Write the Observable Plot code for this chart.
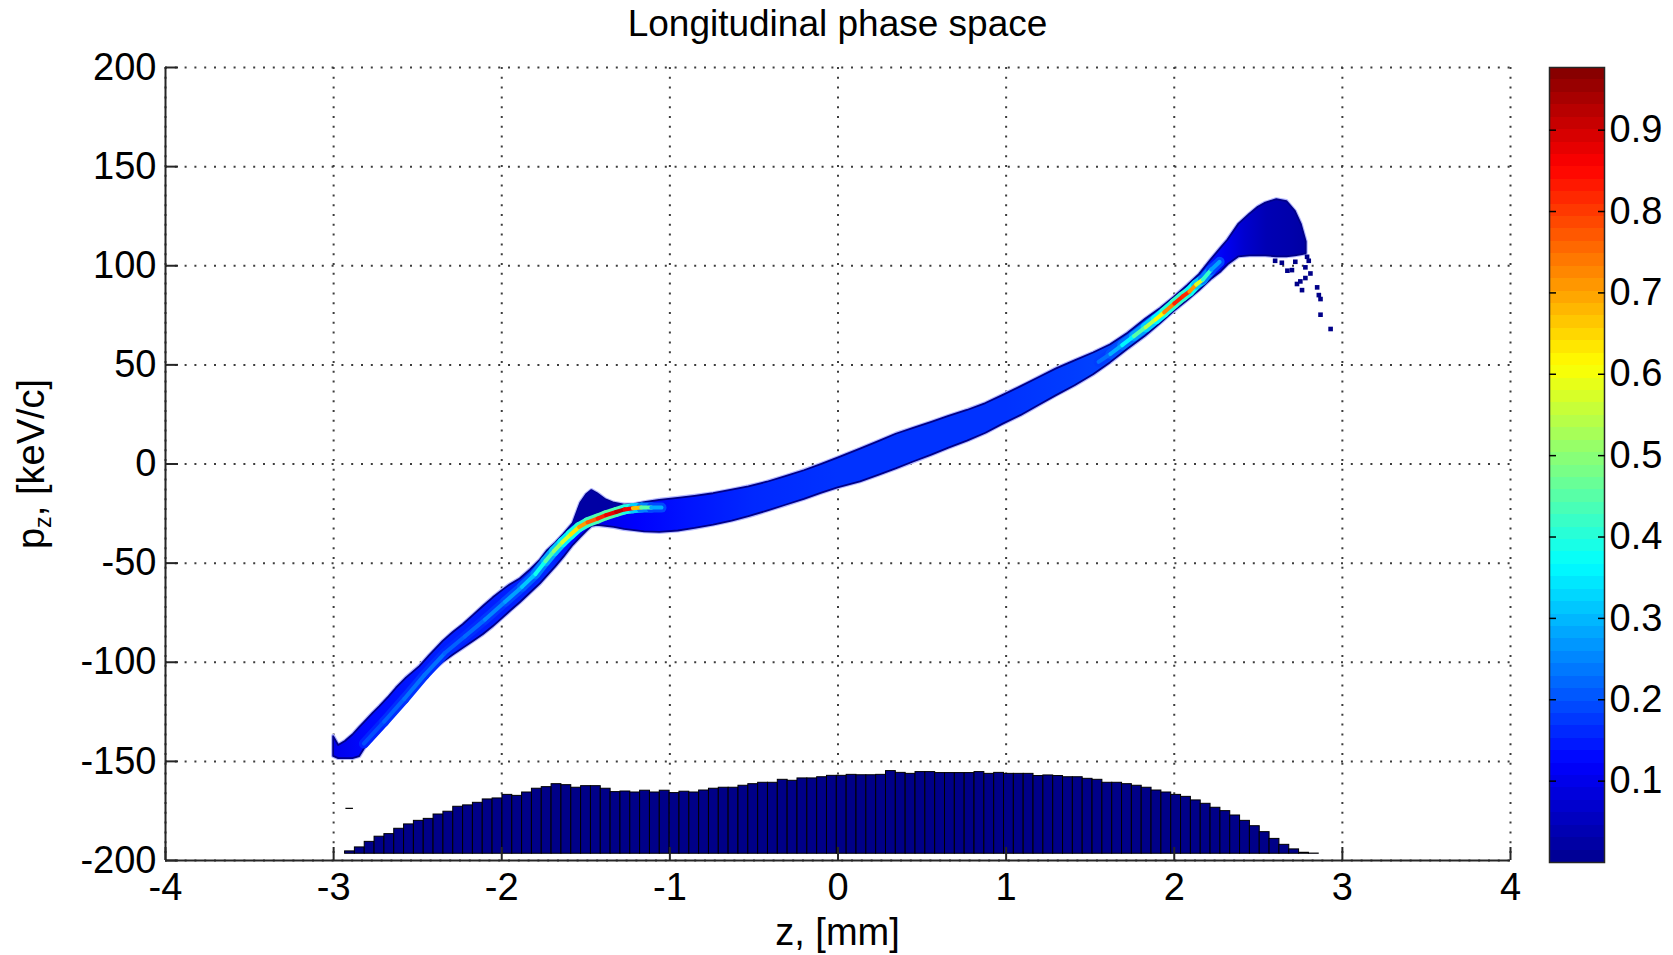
<!DOCTYPE html>
<html>
<head>
<meta charset="utf-8">
<script src="https://cdn.jsdelivr.net/npm/d3@7"></script>
<script src="https://cdn.jsdelivr.net/npm/@observablehq/plot@0.6"></script>
<style>
html,body{margin:0;padding:0;background:#fff;}
#wrap{position:relative;width:1673px;height:955px;overflow:hidden;font-family:"Liberation Sans",Arial,Helvetica,sans-serif;color:#000;}
#main{position:absolute;left:0;top:0;}
#cbar{position:absolute;left:1540px;top:0;}
.lbl{position:absolute;white-space:nowrap;line-height:1;}
#title{left:165px;width:1345px;top:5px;text-align:center;font-size:37px;}
#xlabel{left:165px;width:1345px;top:913px;text-align:center;font-size:38px;}
#ylabel{left:31px;top:464px;font-size:38px;transform:translate(-50%,-50%) rotate(-90deg);}
#ylabel sub{font-size:0.62em;vertical-align:-0.3em;line-height:0;}
</style>
</head>
<body>
<div id="wrap">
  <div id="main"></div>
  <div id="cbar"></div>
  <div class="lbl" id="title">Longitudinal phase space</div>
  <div class="lbl" id="xlabel">z, [mm]</div>
  <div class="lbl" id="ylabel">p<sub>z</sub>, [keV/c]</div>
</div>
<script>
// ---------- tick labels ----------
const xTicks = [-4, -3, -2, -1, 0, 1, 2, 3, 4];
const yTicks = [-200, -150, -100, -50, 0, 50, 100, 150, 200];
const cbTicks = [0.1, 0.2, 0.3, 0.4, 0.5, 0.6, 0.7, 0.8, 0.9];

// ---------- colour map (jet) ----------
const cMax = 0.977;
const jetStops = [0, 0.125, 0.375, 0.625, 0.875, 1];
const jetColors = ["#00008f", "#0000ff", "#00ffff", "#ffff00", "#ff0000", "#800000"];

// ---------- phase-space band envelope: z [mm], lower / upper p [keV/c] ----------
const bandZ  = [-3.00, -2.97, -2.93, -2.885, -2.845, -2.80, -2.765, -2.726, -2.67, -2.626, -2.567, -2.487, -2.427, -2.348, -2.288, -2.229, -2.169, -2.109, -2.05, -1.99, -1.95, -1.89, -1.83, -1.77, -1.73, -1.68, -1.63, -1.575, -1.53, -1.495, -1.464, -1.43, -1.38, -1.33, -1.27, -1.21, -1.15, -1.06, -0.95, -0.85, -0.74, -0.63, -0.53, -0.42, -0.31, -0.20, -0.10, 0.00, 0.134, 0.25, 0.346, 0.45, 0.558, 0.66, 0.77, 0.88, 0.98, 1.09, 1.195, 1.30, 1.41, 1.52, 1.62, 1.726, 1.83, 1.92, 2.00, 2.08, 2.15, 2.22, 2.28, 2.32, 2.385, 2.45, 2.50, 2.545, 2.61, 2.67, 2.72, 2.755, 2.785];
const bandLo = [-147.5, -148.6, -148.6, -148.6, -147.6, -141.5, -137.5, -134.2, -128.5, -124, -119, -111, -105.6, -100, -96.3, -93, -89.5, -86, -82, -77.5, -74.4, -70, -65.2, -60.5, -56.7, -52, -47, -41, -37, -34, -31.5, -31, -31.5, -32, -33, -33.6, -34.2, -34.5, -33.8, -32.5, -30.8, -28.8, -26.6, -23.8, -20.8, -17.8, -14.8, -12, -9, -5.5, -2.5, 1, 4.5, 8, 11.5, 15.5, 20, 24.5, 29.5, 34.5, 39.5, 45, 51, 58, 64.5, 71, 77, 82.5, 87.5, 93, 97, 100.5, 104.5, 105, 105, 105, 104.5, 104.5, 105, 105.5, 106];
const bandHi = [-137.5, -142, -140, -136.7, -133, -129, -125.8, -122.5, -117.5, -113.1, -108, -102.2, -96.5, -89.5, -85, -81.1, -76.5, -71.9, -67.5, -63.5, -61, -58, -53.5, -48.5, -44, -40, -35.5, -30, -19.8, -15.5, -13.4, -15, -18.1, -19.8, -20.7, -20.5, -19.5, -18.3, -17.3, -16.3, -15, -13.2, -11.5, -9.2, -6.4, -3.4, -0.3, 3, 7.5, 11.5, 15, 18, 21, 24, 27, 30.5, 34.5, 39, 43.5, 48, 52, 56, 60, 66, 73, 78.5, 84, 90, 95.5, 103, 109, 113, 121, 126, 129.5, 131.6, 133.3, 132.4, 127.4, 121, 112];

// ---------- body density along the band ----------
const bodyZ = [-3.0, -2.8, -2.4, -2.0, -1.7, -1.55, -1.4, -1.2, -0.9, -0.5, 0.0, 0.5, 1.0, 1.4, 1.7, 1.95, 2.15, 2.3, 2.42, 2.55, 2.7, 2.8];
const bodyD = [0.10, 0.13, 0.15, 0.15, 0.16, 0.12, 0.10, 0.12, 0.14, 0.16, 0.17, 0.17, 0.17, 0.18, 0.19, 0.18, 0.15, 0.11, 0.07, 0.04, 0.03, 0.02];

// ---------- low-density spike near z = -1.46 ----------
const spikeZ  = [-1.575, -1.53, -1.495, -1.464, -1.43, -1.38, -1.33, -1.28];
const spikeLo = [-32, -29.5, -28, -27, -26, -24.5, -23, -22];
const spikeHi = [-30, -19.8, -15.5, -13.4, -15, -18.1, -19.8, -20.7];

// ---------- high-density ridge: z, p, core density, halo density, group ----------
const ridgeZ = [-2.82, -2.70, -2.58, -2.46, -2.34, -2.22, -2.10, -1.98, -1.88, -1.80, -1.74, -1.69, -1.64, -1.59, -1.54, -1.49, -1.43, -1.38, -1.32, -1.27, -1.22, -1.17, -1.11, -1.05,
                1.55, 1.62, 1.69, 1.76, 1.83, 1.89, 1.94, 2.00, 2.05, 2.09, 2.13, 2.17, 2.22, 2.27];
const ridgeP = [-141, -130, -118.5, -106.5, -95.5, -87, -78.5, -69.5, -62, -55.5, -49, -44, -39.5, -35.5, -31.8, -29.4, -27.5, -25.8, -24.2, -22.9, -22.3, -22, -22, -22,
                51.5, 55.5, 60, 64.5, 69, 73, 76.5, 81, 84.5, 87, 90.5, 93, 98, 102];
const ridgeD = [0.18, 0.21, 0.22, 0.24, 0.22, 0.21, 0.24, 0.26, 0.29, 0.34, 0.42, 0.48, 0.54, 0.60, 0.67, 0.74, 0.80, 0.85, 0.90, 0.93, 0.80, 0.55, 0.35, 0.22,
                0.20, 0.26, 0.32, 0.40, 0.50, 0.58, 0.66, 0.80, 0.85, 0.78, 0.65, 0.50, 0.33, 0.22];
const ridgeHalo = [0.15, 0.16, 0.17, 0.17, 0.16, 0.16, 0.17, 0.18, 0.20, 0.22, 0.26, 0.30, 0.33, 0.37, 0.40, 0.42, 0.44, 0.45, 0.45, 0.42, 0.36, 0.28, 0.21, 0.17,
                0.17, 0.19, 0.21, 0.25, 0.30, 0.34, 0.38, 0.42, 0.42, 0.40, 0.35, 0.28, 0.21, 0.17];
const ridgeGroup = [0,0,0,0,0,0,0,0,0,0,0,0,0,0,0,0,0,0,0,0,0,0,0,0, 1,1,1,1,1,1,1,1,1,1,1,1,1,1];

// ---------- stray particles below the head peak ----------
const scatterZ = [2.60, 2.64, 2.673, 2.70, 2.72, 2.78, 2.81, 2.75, 2.78, 2.73, 2.76, 2.85, 2.86, 2.87, 2.87, 2.93, 2.80, 2.79];
const scatterP = [102.5, 101.5, 97.5, 97.8, 102, 99.2, 96.1, 92.1, 93.8, 90.8, 87.7, 89.1, 85.2, 83.2, 75.3, 68.1, 102.5, 104.5];

// ---------- current profile histogram (bar tops in p units) ----------
const histStart = -2.932;
const histBinWidth = 0.0585;
const histBase = -196.6;
const histTop = [
 -195.4, -193.4, -190.6, -188.0, -186.7, -184.0, -181.8, -180.0, -179.0, -176.8,
 -175.4, -172.9, -172.2, -170.9, -169.2, -168.7, -166.9, -167.4, -165.7, -163.8,
 -163.0, -161.5, -162.0, -163.3, -162.5, -162.5, -163.8, -165.5, -165.2, -165.7,
 -164.8, -165.7, -164.8, -166.0, -165.3, -165.7, -164.7, -163.8, -163.3, -163.3,
 -162.3, -161.5, -160.8, -160.8, -159.3, -159.8, -158.6, -158.6, -158.0, -157.3,
 -157.3, -156.8, -157.0, -157.0, -156.8, -154.9, -155.8, -156.3, -155.4, -155.4,
 -155.9, -155.9, -155.9, -155.9, -155.4, -156.3, -155.8, -156.3, -156.3, -156.3,
 -157.4, -157.1, -157.4, -158.0, -158.0, -158.8, -159.3, -160.8, -160.8, -161.5,
 -162.3, -163.3, -164.7, -165.7, -166.9, -167.9, -169.7, -171.4, -173.4, -175.1,
 -177.3, -180.0, -182.7, -185.7, -189.1, -192.1, -194.4, -196.1, -196.5, -196.6
];
const strayDash = [{z1: -2.93, z2: -2.885, p: -173.7}];

// ---------- build tables ----------
const band = bandZ.map((z, i) => ({z, lo: bandLo[i], hi: bandHi[i]}));
const spike = spikeZ.map((z, i) => ({z, lo: spikeLo[i], hi: spikeHi[i]}));
const ridge = ridgeZ.map((z, i) => ({z, p: ridgeP[i], d: ridgeD[i], h: ridgeHalo[i], g: ridgeGroup[i]}));
const segs = d3.pairs(ridge).filter(([a, b]) => a.g === b.g)
  .map(([a, b]) => ({x1: a.z, y1: a.p, x2: b.z, y2: b.p, d: (a.d + b.d) / 2, h: (a.h + b.h) / 2}));
const scatter = scatterZ.map((z, i) => ({z, p: scatterP[i]}));
const hist = histTop.map((top, i) => ({x1: histStart + i * histBinWidth, x2: histStart + (i + 1) * histBinWidth, top}));

const colorOpts = {type: "linear", domain: jetStops.map(s => s * cMax), range: jetColors, interpolate: "rgb", clamp: true};
const fontStyle = {fontFamily: '"Liberation Sans", Arial, Helvetica, sans-serif', fontSize: "38px", color: "#000", background: "transparent", overflow: "visible"};
const gridStyle = {stroke: "#3c3c3c", strokeWidth: 2, strokeDasharray: "2 7.8"};

const main = Plot.plot({
  width: 1540, height: 955,
  marginLeft: 165, marginRight: 30, marginTop: 67, marginBottom: 95,
  x: {domain: [-4, 4]},
  y: {domain: [-200, 200]},
  color: colorOpts,
  style: fontStyle,
  marks: [
    Plot.ruleX(xTicks, gridStyle),
    Plot.ruleY(yTicks, gridStyle),
    Plot.areaY(band, {x: "z", y1: "lo", y2: "hi", fill: "none", stroke: "#b4b8ff", strokeWidth: 4, curve: "linear"}),
    Plot.areaY(band, {x: "z", y1: "lo", y2: "hi", fill: "url(#bandGrad)", stroke: "#000088", strokeWidth: 1.8, curve: "linear"}),
    Plot.areaY(spike, {x: "z", y1: "lo", y2: "hi", fill: "#0000a4", curve: "linear"}),
    Plot.link(segs, {x1: "x1", y1: "y1", x2: "x2", y2: "y2", stroke: "h", strokeWidth: 10, strokeLinecap: "round"}),
    Plot.link(segs, {x1: "x1", y1: "y1", x2: "x2", y2: "y2", stroke: "d", strokeWidth: 4, strokeLinecap: "round"}),
    Plot.dot(scatter, {x: "z", y: "p", symbol: "square", r: 2.6, fill: "#000088"}),
    Plot.rect(hist, {x1: "x1", x2: "x2", y1: histBase, y2: "top", fill: "#000088", stroke: "#000", strokeWidth: 1}),
    Plot.link(strayDash, {x1: "z1", x2: "z2", y1: "p", y2: "p", stroke: "#000", strokeWidth: 1.2}),
    Plot.ruleX([-4], {stroke: "#262626", strokeWidth: 2}),
    Plot.ruleY([-200], {stroke: "#262626", strokeWidth: 2}),
    Plot.axisX(xTicks, {tickSize: -13, tickPadding: 26, tickFormat: d => String(d), label: null, fontSize: 38, strokeWidth: 2, stroke: "#262626", fill: "#000"}),
    Plot.axisY(yTicks, {tickSize: -13, tickPadding: 22, tickFormat: d => String(d), label: null, fontSize: 38, strokeWidth: 2, stroke: "#262626", fill: "#000"})
  ]
});

// gradient along z for the band body, built from Plot's own x and colour scales
const xs = main.scale("x"), cs = main.scale("color");
const gx0 = xs.apply(bodyZ[0]), gx1 = xs.apply(bodyZ[bodyZ.length - 1]);
const defs = d3.select(main).insert("defs", ":first-child");
const grad = defs.append("linearGradient").attr("id", "bandGrad")
  .attr("gradientUnits", "userSpaceOnUse")
  .attr("x1", gx0).attr("x2", gx1).attr("y1", 0).attr("y2", 0);
bodyZ.forEach((z, i) => {
  grad.append("stop").attr("offset", (xs.apply(z) - gx0) / (gx1 - gx0)).attr("stop-color", cs.apply(bodyD[i]));
});
document.getElementById("main").appendChild(main);

// ---------- colour bar ----------
const levels = d3.range(64).map(i => ({lo: i * cMax / 64, hi: (i + 1) * cMax / 64, mid: (i + 0.5) * cMax / 64}));
const cbar = Plot.plot({
  width: 133, height: 955,
  marginLeft: 9, marginRight: 69, marginTop: 67, marginBottom: 93,
  x: {domain: [0, 1], axis: null},
  y: {domain: [0, cMax]},
  color: colorOpts,
  style: fontStyle,
  marks: [
    Plot.rect(levels, {x1: 0, x2: 1, y1: "lo", y2: "hi", fill: "mid", shapeRendering: "crispEdges"}),
    Plot.frame({stroke: "#262626", strokeWidth: 1.5}),
    Plot.axisY(cbTicks, {anchor: "right", tickSize: -7, tickPadding: 12, tickFormat: d => d.toFixed(1), label: null, fontSize: 38, strokeWidth: 1.5, fill: "#000"}),
    Plot.axisY(cbTicks, {anchor: "left", tickSize: -7, tickFormat: () => "", label: null, strokeWidth: 1.5})
  ]
});
document.getElementById("cbar").appendChild(cbar);
</script>
</body>
</html>
